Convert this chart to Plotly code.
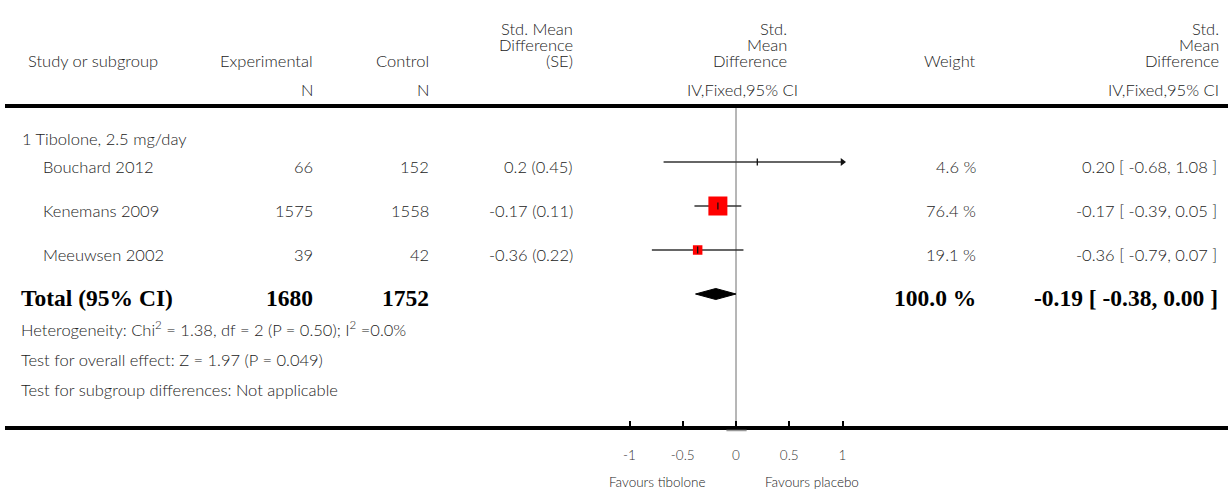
import numpy as np
import plotly.graph_objects as go

# ---------------- data ----------------
studies = ["Bouchard 2012", "Kenemans 2009", "Meeuwsen 2002"]
n_experimental = [66, 1575, 39]
n_control = [152, 1558, 42]
smd = [0.2, -0.17, -0.36]
smd_se = [0.45, 0.11, 0.22]
weight_pct = [4.6, 76.4, 19.1]
ci_low = [-0.68, -0.39, -0.79]
ci_high = [1.08, 0.05, 0.07]

subgroup_label = "1 Tibolone, 2.5 mg/day"
total_label = "Total (95% CI)"
total_n_experimental = 1680
total_n_control = 1752
total_weight_pct = 100.0
total_smd = -0.19
total_ci_low = -0.38
total_ci_high = 0.00

footnotes = [
    "Heterogeneity: Chi<sup>2</sup> = 1.38, df = 2 (P = 0.50); I<sup>2</sup> =0.0%",
    "Test for overall effect: Z = 1.97 (P = 0.049)",
    "Test for subgroup differences: Not applicable",
]

x_tick_values = [-1, -0.5, 0, 0.5, 1]
x_tick_labels = ["-1", "-0.5", "0", "0.5", "1"]
favours_left = "Favours tibolone"
favours_right = "Favours placebo"

# ---------------- layout constants ----------------
W, H = 1228, 492
ZERO_PX = 736.0      # pixel of x = 0
UNIT_PX = 106.5      # pixels per unit of SMD
X_HALF = 1.1
ROW0_PX = 162.0      # pixel of first study row
ROW_PX = 44.0        # pixels per row
AXIS_PX = 428.0      # bottom rule / axis
TOP_RULE_PX = 106.0

SANS = "Lato"
SERIF = "Liberation Serif"
TXT = "#222222"
FS = 16.5
FS_BOLD = 23.5
FW = 300

def row_of(px):
    return (px - ROW0_PX) / ROW_PX

def paper_x(px):
    return px / W

def paper_y(px):
    return 1 - px / H

x_clip = max(x_tick_values)
rows = list(range(len(studies)))
total_row = len(studies)

fig = go.Figure()

# CI lines
lx, ly = [], []
for i, lo, hi in zip(rows, ci_low, ci_high):
    lx += [max(lo, -x_clip), min(hi, x_clip), None]
    ly += [i, i, None]
fig.add_trace(go.Scatter(x=lx, y=ly, mode="lines",
                         line=dict(color="#333333", width=1.6),
                         hoverinfo="skip", showlegend=False))

# arrows for clipped CIs
ax_, ay_ = [], []
for i, hi in zip(rows, ci_high):
    if hi > x_clip:
        ax_.append(x_clip)
        ay_.append(i)
fig.add_trace(go.Scatter(x=ax_, y=ay_, mode="markers",
                         marker=dict(symbol="triangle-right", size=7, color="#111111",
                                     line=dict(width=0)),
                         hoverinfo="skip", showlegend=False))

# weight boxes
w = np.array(weight_pct)
box = 19.0 * np.sqrt(w / w.max())
box = np.where(box < 5, 0, box)
fig.add_trace(go.Scatter(x=smd, y=rows, mode="markers",
                         marker=dict(symbol="square", size=box, color="#ff0000",
                                     opacity=1, line=dict(width=0)),
                         hoverinfo="skip", showlegend=False))

# point ticks
fig.add_trace(go.Scatter(x=smd, y=rows, mode="markers",
                         marker=dict(symbol="line-ns", size=5,
                                     line=dict(width=1.3, color="#111111")),
                         hoverinfo="skip", showlegend=False))

# diamond
dh = 5.5 / ROW_PX
fig.add_trace(go.Scatter(
    x=[total_ci_low, total_smd, total_ci_high, total_smd, total_ci_low],
    y=[total_row, total_row - dh, total_row, total_row + dh, total_row],
    mode="lines", fill="toself", fillcolor="black",
    line=dict(color="black", width=1), hoverinfo="skip", showlegend=False))

# ---------------- text ----------------
ann = []

def text(t, x_px, y, anchor="right", yref="y", font=SANS, size=FS, color=TXT,
         yshift=0, bold=False):
    ann.append(dict(text=t, x=paper_x(x_px), xref="paper", y=y, yref=yref,
                    xanchor=anchor, yanchor="middle", showarrow=False,
                    yshift=yshift,
                    font=dict(family=font, size=size, color=color,
                              weight="bold" if bold else FW)))

# headers
text("Study or subgroup", 26, row_of(61), anchor="left")
text("Experimental", 315, row_of(61))
text("Control", 431, row_of(61))
text("N", 315, row_of(90))
text("N", 431, row_of(90))
for t, py in [("Std. Mean", 29), ("Difference", 45), ("(SE)", 61)]:
    text(t, 575, row_of(py))
for t, py in [("Std.", 29), ("Mean", 45), ("Difference", 61)]:
    text(t, 789, row_of(py))
    text(t, 1221, row_of(py))
text("IV,Fixed,95% CI", 800, row_of(90))
text("IV,Fixed,95% CI", 1221, row_of(90))
text("Weight", 978, row_of(61))

# subgroup
text(subgroup_label, 20, row_of(139), anchor="left")

# study rows
for i, s, ne, nc, m, se_, wt, lo, hi in zip(rows, studies, n_experimental, n_control,
                                              smd, smd_se, weight_pct, ci_low, ci_high):
    text(s, 41, i, anchor="left", yshift=-5)
    text(str(ne), 315, i, yshift=-5)
    text(str(nc), 431, i, yshift=-5)
    text(f"{m:g} ({se_:g})", 575, i, yshift=-5)
    text(f"{wt:.1f} %", 978, i, yshift=-5)
    text(f"{m:.2f} [ {lo:.2f}, {hi:.2f} ]", 1219, i, yshift=-5)

# total row
for t, xp, anchor in [(total_label, 19, "left"),
                      (str(total_n_experimental), 315, "right"),
                      (str(total_n_control), 431, "right"),
                      (f"{total_weight_pct:.1f} %", 978, "right"),
                      (f"{total_smd:.2f} [ {total_ci_low:.2f}, {total_ci_high:.2f} ]", 1220, "right")]:
    text(t, xp, total_row, anchor=anchor, font=SERIF, size=FS_BOLD,
         color="black", yshift=-4, bold=True)

# footnotes
for t, py in zip(footnotes, [329, 360, 390]):
    text(t, 19, row_of(py), anchor="left")

# favours labels
for t, anchor, shift in [(favours_left, "right", -28), (favours_right, "left", 27)]:
    ann.append(dict(text=t, x=0, xref="x", y=paper_y(492), yref="paper",
                    xanchor=anchor, yanchor="bottom", xshift=shift, showarrow=False,
                    font=dict(family=SANS, size=13.5, color=TXT, weight=FW)))

# ---------------- shapes ----------------
shapes = [
    dict(type="line", xref="paper", yref="paper", x0=paper_x(5), x1=1,
         y0=paper_y(TOP_RULE_PX), y1=paper_y(TOP_RULE_PX),
         line=dict(color="black", width=4)),
    dict(type="line", xref="paper", yref="paper", x0=paper_x(5), x1=1,
         y0=paper_y(AXIS_PX), y1=paper_y(AXIS_PX),
         line=dict(color="black", width=4)),
    dict(type="line", xref="x", yref="paper", x0=0, x1=0,
         y0=paper_y(TOP_RULE_PX), y1=paper_y(AXIS_PX),
         line=dict(color="#6f6f6f", width=1), layer="below"),
    dict(type="line", xref="x", yref="paper", x0=-0.09, x1=0.1,
         y0=paper_y(AXIS_PX + 2.5), y1=paper_y(AXIS_PX + 2.5),
         line=dict(color="#999999", width=1.5)),
]

fig.update_layout(
    width=W, height=H,
    margin=dict(l=0, r=0, t=0, b=0),
    paper_bgcolor="white", plot_bgcolor="rgba(0,0,0,0)",
    showlegend=False,
    annotations=ann, shapes=shapes,
    xaxis=dict(
        domain=[(ZERO_PX - X_HALF * UNIT_PX) / W, (ZERO_PX + X_HALF * UNIT_PX) / W],
        range=[-X_HALF, X_HALF], tickvals=x_tick_values, ticktext=x_tick_labels,
        ticks="inside", ticklen=7, tickwidth=2, tickcolor="black",
        showgrid=False, zeroline=False, showline=False,
        tickfont=dict(family=SANS, size=13.5, color="#333333", weight=FW),
        ticklabelstandoff=17, fixedrange=True,
    ),
    yaxis=dict(
        domain=[(H - AXIS_PX) / H, 1],
        range=[row_of(AXIS_PX), row_of(0)],
        showgrid=False, zeroline=False, showline=False, showticklabels=False,
        ticks="", fixedrange=True,
    ),
)

fig.write_html(
    "out.html",
    config={"displayModeBar": False},
    post_script="document.documentElement.style.margin='0';"
                "document.body.style.margin='0';document.body.style.padding='0';"
                "document.body.style.overflow='hidden';",
)
